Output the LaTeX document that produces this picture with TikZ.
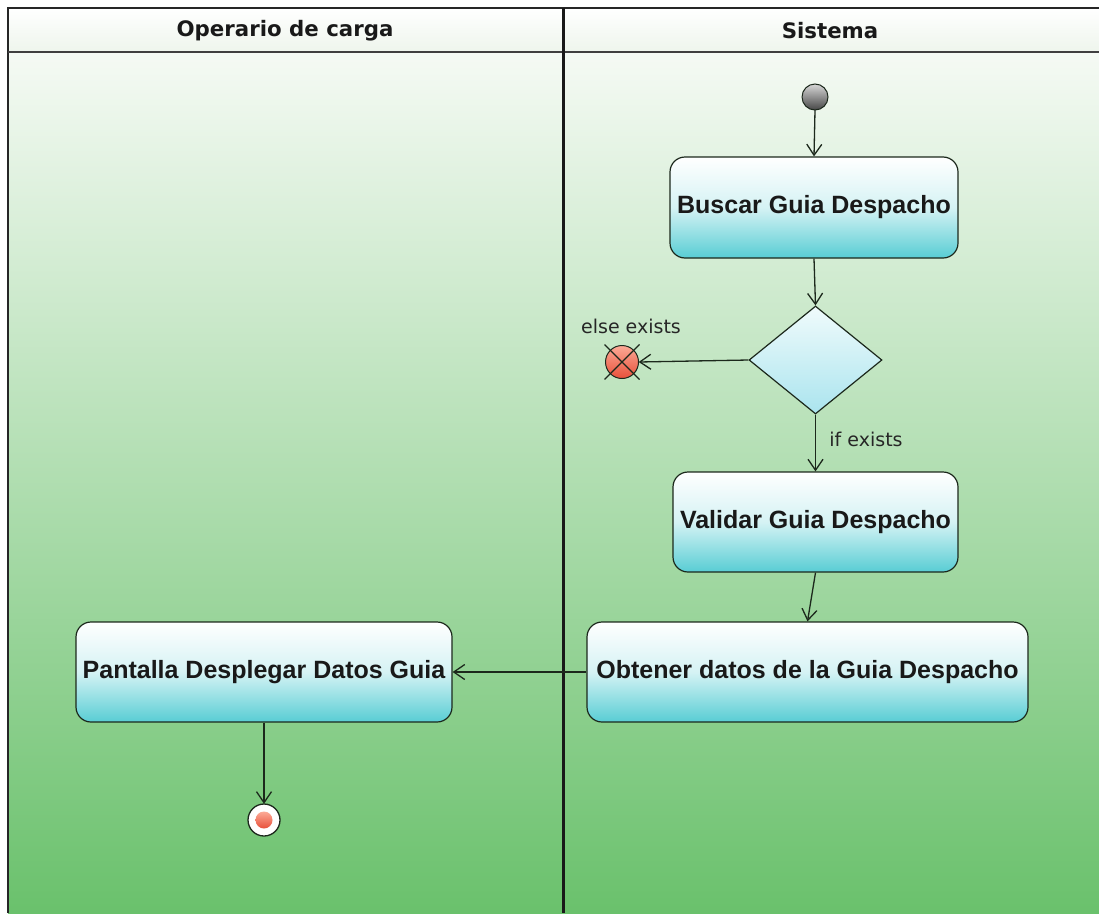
\documentclass[tikz,border=0pt]{standalone}
\usepackage{fontspec}
\setmainfont{Liberation Sans}
\newfontfamily\titlefont{DejaVu Sans}
\newfontfamily\labelfont{DejaVu Sans}
\usetikzlibrary{shapes.geometric,arrows.meta}

\definecolor{lanetop}{RGB}{245,250,244}
\definecolor{lanemid}{RGB}{186,226,182}
\definecolor{lanebot}{RGB}{106,193,108}
\definecolor{headbot}{RGB}{238,245,236}
\definecolor{actbot}{RGB}{88,205,212}
\definecolor{dectop}{RGB}{240,251,252}
\definecolor{decbot}{RGB}{170,228,238}
\definecolor{edge}{RGB}{28,40,28}
\definecolor{redtop}{RGB}{252,170,150}
\definecolor{redbot}{RGB}{232,80,58}
\definecolor{greytop}{RGB}{215,215,215}
\definecolor{greybot}{RGB}{70,70,70}

\tikzset{
  activity/.style={draw=edge, line width=1.2pt, rounded corners=15pt,
    top color=white, bottom color=actbot, middle color={actbot!25},
    inner sep=0pt, font=\bfseries\fontsize{25}{28}\selectfont, text=black!90},
  decision/.style={diamond, draw=edge, line width=1.2pt, inner sep=0pt,
    top color=dectop, bottom color=decbot},
  flow/.style={draw=edge, line width=1.3pt,
    -{Straight Barb[length=11pt,width=15pt,line width=1.3pt]}},
  guard/.style={font=\labelfont\fontsize{19}{22}\selectfont, text=black!85},
  lanetitle/.style={font=\titlefont\bfseries\fontsize{21.3}{25}\selectfont, text=black!90}
}

\begin{document}
\begin{tikzpicture}[x=1pt,y=-1pt]
  \useasboundingbox (0,0) rectangle (1099,913);
  \fill[white] (0,0) rectangle (1099,913);

  % swimlane backgrounds
  \shade[top color=white, bottom color=headbot] (8,8) rectangle (1099,52);
  \shade[top color=lanetop, middle color=lanemid, bottom color=lanebot] (8,52) rectangle (1099,913);

  % swimlane frame
  \draw[line width=2pt, black!85] (8,913) -- (8,8) -- (1099,8);
  \draw[line width=1.6pt, black!75] (8,52) -- (1099,52);
  \draw[line width=3pt, black!90] (563,8) -- (563,913);

  \node[lanetitle] (laneA) at (285,31) {Operario de carga};
  \node[lanetitle] (laneB) at (830,31) {Sistema};

  % initial node
  \shade[top color=greytop, bottom color=greybot, draw=edge, line width=1pt] (815,97) circle (13);
  \node[circle, minimum size=26pt, inner sep=0pt] (init) at (815,97) {};

  % activities
  \node[activity, minimum width=288pt, minimum height=101pt] (busc) at (814,207.5) {Buscar Guia Despacho};
  \node[decision, minimum width=133pt, minimum height=108pt] (dec) at (815.5,360) {};
  \node[activity, minimum width=285pt, minimum height=100pt] (val) at (815.5,522) {Validar Guia Despacho};
  \node[activity, minimum width=441pt, minimum height=100pt] (obt) at (807.5,672) {Obtener datos de la Guia Despacho};
  \node[activity, minimum width=376pt, minimum height=100pt] (pant) at (264,672) {Pantalla Desplegar Datos Guia};

  % flow final
  \shade[top color=redtop, bottom color=redbot, draw=edge, line width=1pt] (622,362) circle (16.5);
  \draw[edge, line width=1.2pt] (604.5,344.5) -- (639.5,379.5) (604.5,379.5) -- (639.5,344.5);
  \node[circle, minimum size=33pt, inner sep=0pt] (ff) at (622,362) {};

  % activity final
  \filldraw[fill=white, draw=edge, line width=1.3pt] (264,820) circle (16);
  \shade[top color=redtop, bottom color=redbot] (264,820) circle (8.5);
  \node[circle, minimum size=32pt, inner sep=0pt] (fin) at (264,820) {};

  % control flows
  \draw[flow] (init.south) -- (busc.north);
  \draw[flow] (busc.south) -- (dec.north);
  \draw[flow] (dec.west) -- (ff.east);
  \draw[flow] (dec.south) -- (val.north);
  \draw[flow] (val.south) -- (obt.north);
  \draw[flow] (obt.west) -- (pant.east);
  \draw[flow] (pant.south) -- (fin.north);

  % guards
  \node[guard] (gelse) at (631,326) {else exists};
  \node[guard] (gif) at (866,439) {if exists};
\end{tikzpicture}
\end{document}
